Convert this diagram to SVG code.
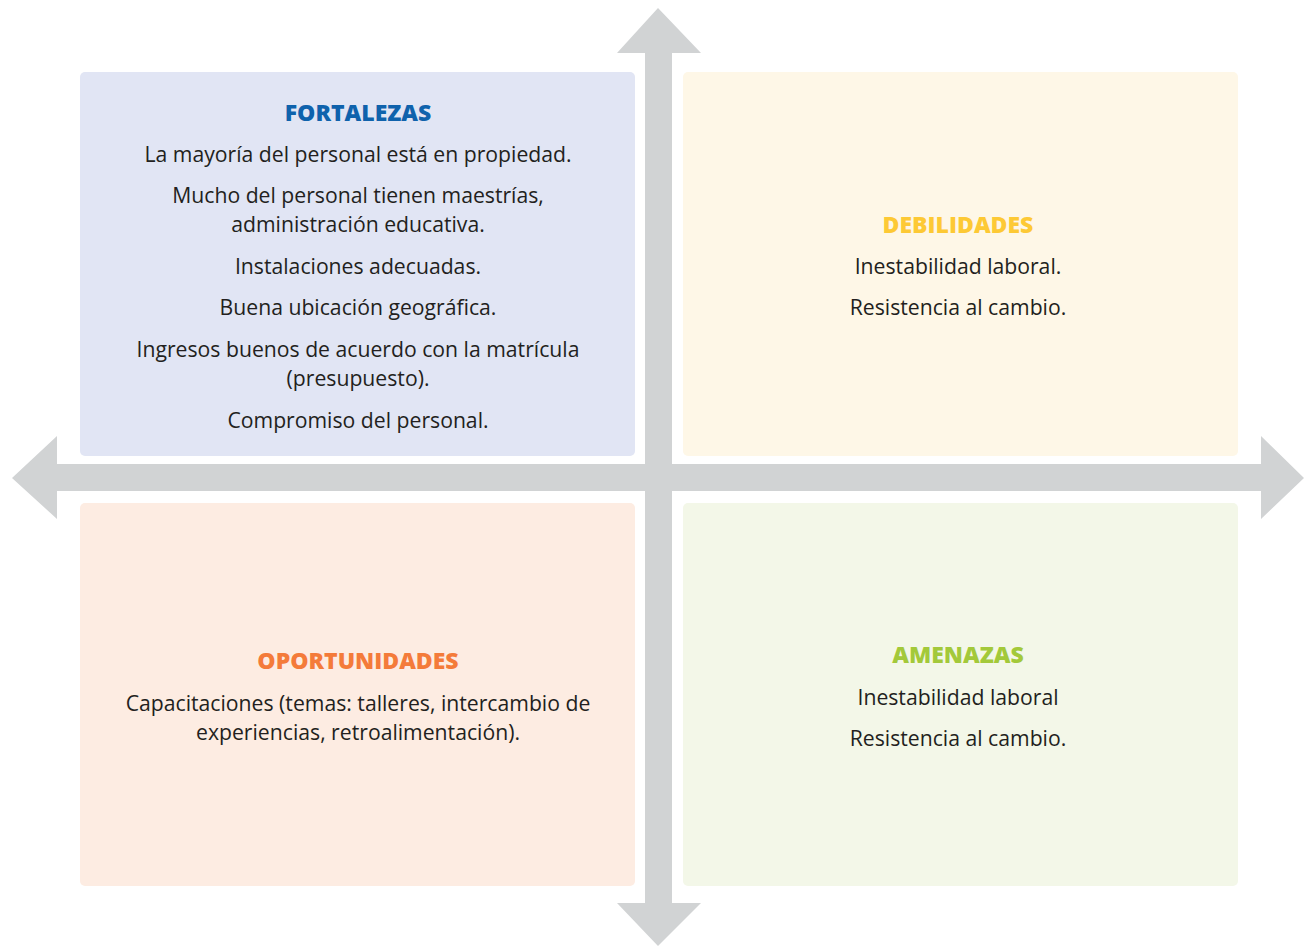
<svg xmlns="http://www.w3.org/2000/svg" width="1308" height="947" viewBox="0 0 1308 947">
<style>
.t{font-family:"Open Sans","Liberation Sans",sans-serif;font-size:21.2px;fill:#231f20;text-anchor:middle}
.h{font-family:"Open Sans","Liberation Sans",sans-serif;font-size:23px;font-weight:800;text-anchor:middle}
.ax{fill:#d1d3d4}
</style>
<rect width="1308" height="947" fill="#ffffff"/>
<g id="connectors">
<polygon class="ax" points="658,8 701,53 672,53 672,903 701,903 658,946 617,903 645,903 645,53 617,53"/>
<polygon class="ax" points="12,478 57,436 57,464 1261,464 1261,436 1304,478 1261,519 1261,491 57,491 57,519"/>
</g>
<g id="fortalezas">
<rect x="80" y="72" width="555" height="384" rx="5" fill="#e1e5f4"/>
<text class="h" x="358" y="121" fill="#0f62ac">FORTALEZAS</text>
<text class="t" x="358" y="162">La mayoría del personal está en propiedad.</text>
<text class="t" x="358" y="203">Mucho del personal tienen maestrías,</text>
<text class="t" x="358" y="232">administración educativa.</text>
<text class="t" x="358" y="274">Instalaciones adecuadas.</text>
<text class="t" x="358" y="315">Buena ubicación geográfica.</text>
<text class="t" x="358" y="357">Ingresos buenos de acuerdo con la matrícula</text>
<text class="t" x="358" y="386">(presupuesto).</text>
<text class="t" x="358" y="428">Compromiso del personal.</text>
</g>
<g id="debilidades">
<rect x="683" y="72" width="555" height="384" rx="5" fill="#fef7e7"/>
<text class="h" x="958" y="233" fill="#fdc935">DEBILIDADES</text>
<text class="t" x="958" y="274">Inestabilidad laboral.</text>
<text class="t" x="958" y="315">Resistencia al cambio.</text>
</g>
<g id="oportunidades">
<rect x="80" y="503" width="555" height="383" rx="5" fill="#fdece2"/>
<text class="h" x="358" y="669" fill="#f47b3a">OPORTUNIDADES</text>
<text class="t" x="358" y="711">Capacitaciones (temas: talleres, intercambio de</text>
<text class="t" x="358" y="740">experiencias, retroalimentación).</text>
</g>
<g id="amenazas">
<rect x="683" y="503" width="555" height="383" rx="5" fill="#f3f7e8"/>
<text class="h" x="958" y="663" fill="#a3c93a">AMENAZAS</text>
<text class="t" x="958" y="705">Inestabilidad laboral</text>
<text class="t" x="958" y="746">Resistencia al cambio.</text>
</g>
</svg>
